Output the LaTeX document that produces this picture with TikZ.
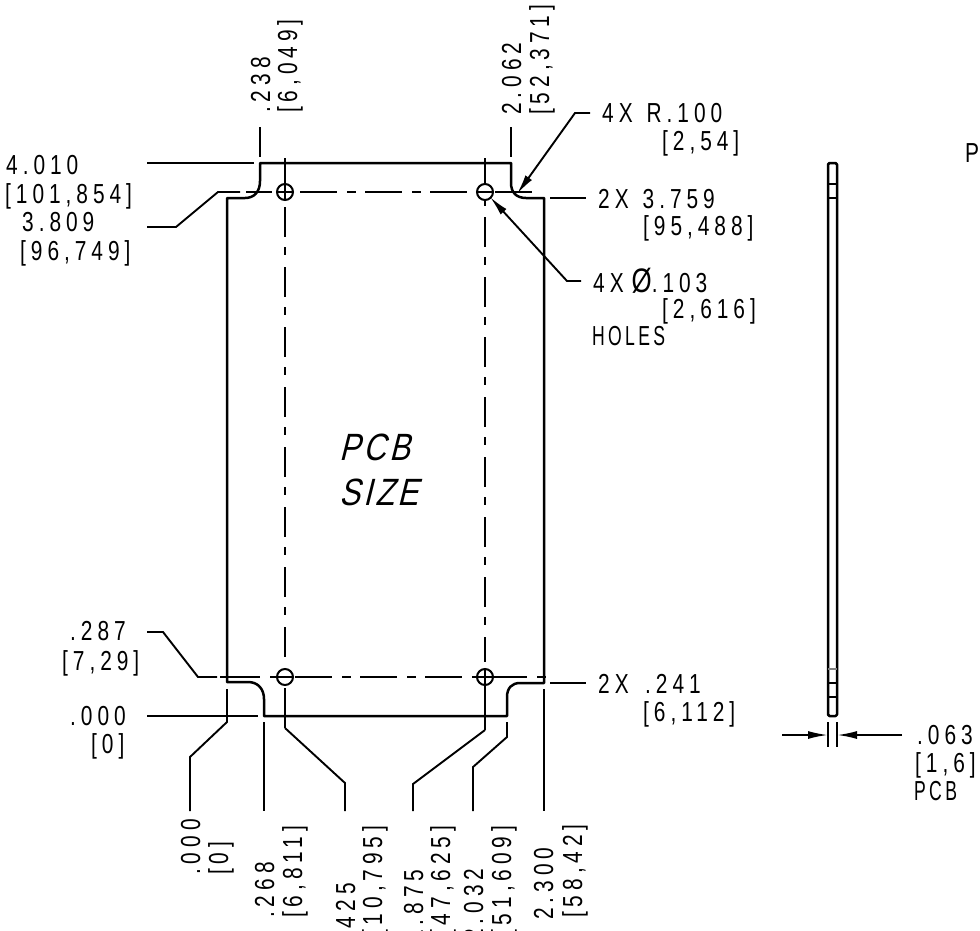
\documentclass[tikz,border=0pt]{standalone}
\usepackage{fontspec}
\usetikzlibrary{arrows.meta}
\newfontfamily\cadfont[FakeStretch=0.76,LetterSpace=18,WordSpace=1.3]{Liberation Sans}
\newfontfamily\cadcaps[FakeStretch=0.64,LetterSpace=12]{Liberation Sans}
\newfontfamily\cadital[FakeStretch=0.82,LetterSpace=9,FakeSlant=0.25]{Liberation Sans}
\tikzstyle{dim} = [font = \cadfont\fontsize{27.5pt}{27.5pt}\selectfont, anchor = base west, inner sep = 0pt, text = black]
\tikzstyle{vdim} = [dim, rotate = 90]
\tikzstyle{capsdim} = [dim, font = \cadcaps\fontsize{27.5pt}{27.5pt}\selectfont]
\tikzstyle{sizelabel} = [dim, font = \cadital\fontsize{38pt}{38pt}\selectfont]
\tikzstyle{board} = [line width = 2.5pt, line join = round]
\tikzstyle{leader} = [line width = 1.9pt]
\tikzstyle{arrow} = [leader, -{Latex[length = 20pt, width = 8pt]}]
\tikzstyle{hline} = [line width = 1.8pt, dash pattern = on 37pt off 10pt on 9pt off 9pt]
\tikzstyle{vline} = [line width = 1.8pt, dash pattern = on 30pt off 10pt on 8pt off 12pt]
\tikzstyle{hole} = [circle, draw, line width = 2pt, minimum size = 16pt, inner sep = 0pt]

\begin{document}
\begin{tikzpicture}[x = 1pt, y = -1pt]
	\useasboundingbox (0,0) rectangle (980,930);

	% Board outline
	\draw[board] (227,198) -- (245,198) .. controls (254,198) and (260,192) .. (260,181) -- (260,163)
		-- (511,163) -- (511,183) .. controls (511,192) and (516,198) .. (526,198) -- (544,198)
		-- (544,683) -- (520,683) .. controls (512,683) and (507,688) .. (507,697) -- (507,716)
		-- (264,716) -- (264,699) .. controls (264,689) and (258,682) .. (248,682) -- (227,682) -- cycle;

	% Holes
	\node[hole] (holetl) at (285,192) {};
	\node[hole] (holetr) at (485,192) {};
	\node[hole] (holebl) at (285,677) {};
	\node[hole] (holebr) at (485,677) {};

	% Centre lines
	\coordinate (ctopa) at (300,192);
	\coordinate (ctopb) at (532,192);
	\coordinate (cbota) at (295,677);
	\coordinate (cbotb) at (549,677);
	\coordinate (clefta) at (285,207);
	\coordinate (cleftb) at (285,659);
	\coordinate (crighta) at (485,217);
	\coordinate (crightb) at (485,662);
	\draw[hline] (ctopa) -- (ctopb);
	\draw[hline] (cbota) -- (cbotb);
	\draw[vline] (clefta) -- (cleftb);
	\draw[vline] (crighta) -- (crightb);
	\draw[leader] (246,192) -- (272,192);
	\draw[leader] (holetl.west) -- (holetl.east);
	\draw[leader] (holetr.west) -- (holetr.east);
	\draw[leader] (220,677) -- (260,677);
	\draw[leader] (270,677) -- (holebl.east);
	\draw[leader] (holebr.west) -- (holebr.east);
	\draw[leader] (285,158) -- (holetl.south);
	\draw[leader] (485,158) -- (holetr.north);
	\draw[leader] (holetr.south) -- (485,206);
	\draw[leader] (285,688) -- (285,728);
	\draw[leader] (holebr.north) -- (485,730);

	% Top dimensions
	\node[vdim] (lbltopa) at (270,113) {.238};
	\node[vdim] (lbltopb) at (297,113) {[6,049]};
	\node[vdim] (lbltopc) at (521,115) {2.062};
	\node[vdim] (lbltopd) at (549,115) {[52,371]};
	\draw[leader] (260,127) -- (260,157);
	\draw[leader] (511,127) -- (511,157);

	% Left dimensions
	\node[dim] (lblleftaa) at (6,174) {4.010};
	\node[dim] (lblleftab) at (5,203) {[101,854]};
	\node[dim] (lblleftba) at (22,231) {3.809};
	\node[dim] (lblleftbb) at (20,260) {[96,749]};
	\node[dim] (lblleftca) at (70,640) {.287};
	\node[dim] (lblleftcb) at (62,670) {[7,29]};
	\node[dim] (lblleftda) at (70,725) {.000};
	\node[dim] (lblleftdb) at (91,753) {[0]};
	\draw[leader] (147,163) -- (254,163);
	\draw[leader] (147,227) -- (176,227) -- (218,192) -- (240,192);
	\draw[leader] (147,632) -- (163,632) -- (198,677) -- (217,677);
	\draw[leader] (147,716) -- (258,716);

	% Right dimensions
	\node[dim] (lblrightaa) at (602,122) {4X R.100};
	\node[dim] (lblrightab) at (662,150) {[2,54]};
	\node[dim] (lblrightba) at (598,208) {2X 3.759};
	\node[dim] (lblrightbb) at (643,235) {[95,488]};
	\node[dim] (lblrightca) at (593,292) {4X\kern8pt{\fontsize{34pt}{27pt}\selectfont Ø}.103};
	\node[dim] (lblrightcb) at (662,318) {[2,616]};
	\node[capsdim] (lblrightcc) at (592,345) {HOLES};
	\node[dim] (lblrightda) at (598,693) {2X};
	\node[dim] (lblrightdb) at (645,693) {.241};
	\node[dim] (lblrightdc) at (643,721) {[6,112]};
	\draw[arrow] (590,113) -- (575,113) -- (517,194);
	\draw[leader] (550,198) -- (586,198);
	\draw[arrow] (581,281) -- (567,281) -- (490,197);
	\draw[leader] (550,683) -- (586,683);

	% Bottom dimensions
	\node[vdim] (lblbota) at (200,875) {.000};
	\node[vdim] (lblbotb) at (228,875) {[0]};
	\node[vdim] (lblbotc) at (274,918) {.268};
	\node[vdim] (lblbotd) at (302,918) {[6,811]};
	\node[vdim] (lblbote) at (355,939) {.425};
	\node[vdim] (lblbotf) at (382,936) {[10,795]};
	\node[vdim] (lblbotg) at (423,942) {1.875};
	\node[vdim] (lblboth) at (450,936) {[47,625]};
	\node[vdim] (lblboti) at (483,941) {2.032};
	\node[vdim] (lblbotj) at (511,936) {[51,609]};
	\node[vdim] (lblbotk) at (553,920) {2.300};
	\node[vdim] (lblbotl) at (582,918) {[58,42]};
	\draw[leader] (227,689) -- (227,722) -- (190,757) -- (190,811);
	\draw[leader] (264,722) -- (264,811);
	\draw[leader] (285,728) -- (345,783) -- (345,811);
	\draw[leader] (485,730) -- (413,784) -- (413,811);
	\draw[leader] (507,722) -- (507,737) -- (473,767) -- (473,811);
	\draw[leader] (544,689) -- (544,811);

	% Board size
	\node[sizelabel] (lblsizea) at (339,460) {PCB};
	\node[sizelabel] (lblsizeb) at (339,505) {SIZE};

	% Side view
	\draw[board, rounded corners = 1.5pt] (828,163) rectangle (837,716);
	\draw[leader] (828,184) -- (837,184);
	\draw[leader] (828,198) -- (837,198);
	\draw[leader, gray] (828,669) -- (837,669);
	\draw[leader] (828,683) -- (837,683);
	\draw[leader] (828,697) -- (837,697);
	\draw[leader] (828,722) -- (828,747);
	\draw[leader] (837,722) -- (837,747);
	\draw[arrow] (782,735) -- (828,735);
	\draw[arrow] (902,735) -- (837,735);
	\node[dim] (lblthicka) at (917,744) {.063};
	\node[dim] (lblthickb) at (915,772) {[1,6]};
	\node[capsdim] (lblthickc) at (914,800) {PCB};

	% Cut off at the right edge
	\node[dim] (lblcut) at (965,162) {P};
\end{tikzpicture}
\end{document}
